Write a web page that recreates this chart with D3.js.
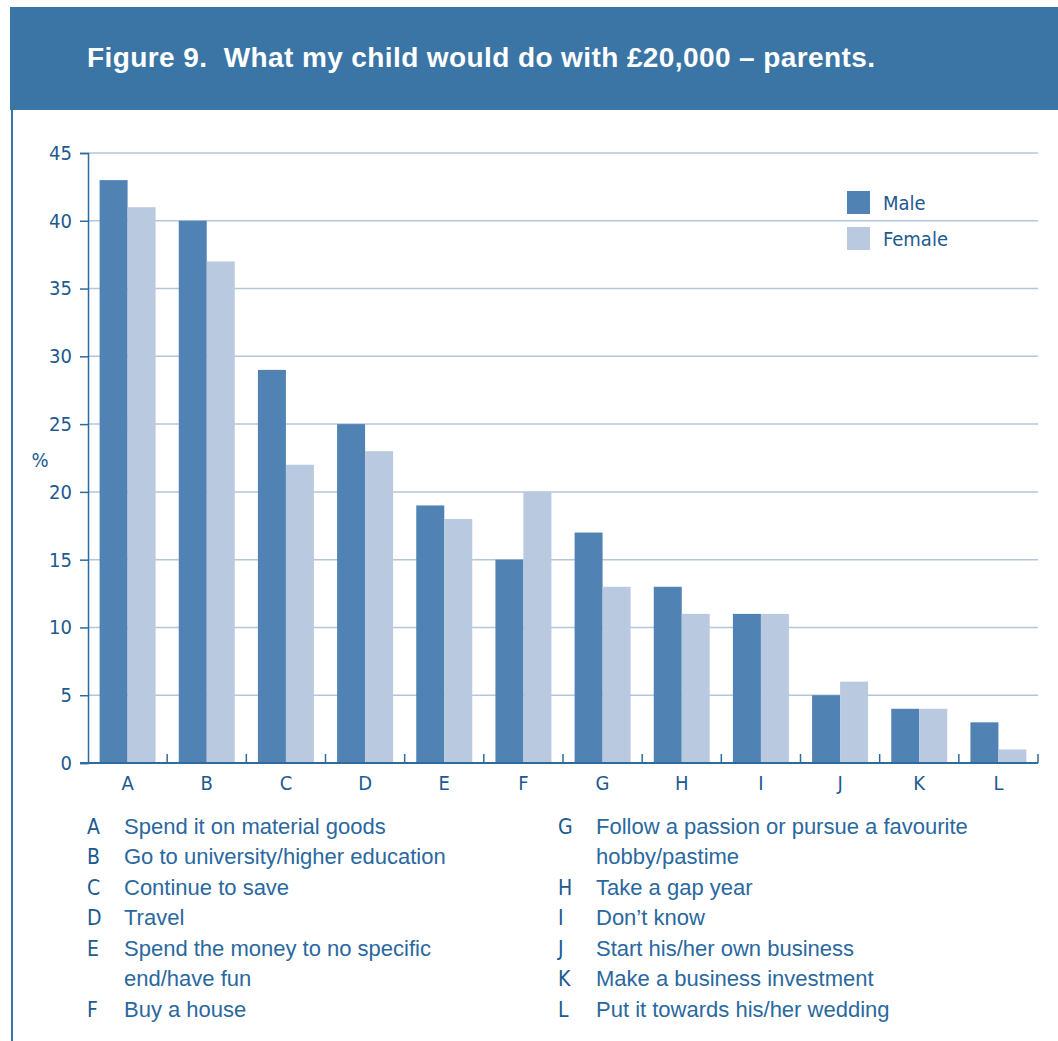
<!DOCTYPE html>
<html>
<head>
<meta charset="utf-8">
<script src="https://cdn.jsdelivr.net/npm/d3@7"></script>
<style>
  html, body { margin: 0; padding: 0; background: #fff; }
  svg { display: block; }
</style>
</head>
<body>
<svg id="chart" width="1058" height="1041"></svg>
<script>
// Survey answers by parent gender, in percent
const categories = ["A", "B", "C", "D", "E", "F", "G", "H", "I", "J", "K", "L"];
const maleValues = [43, 40, 29, 25, 19, 15, 17, 13, 11, 5, 4, 3];
const femaleValues = [41, 37, 22, 23, 18, 20, 13, 11, 11, 6, 4, 1];
const seriesNames = ["Male", "Female"];
const yTicks = [0, 5, 10, 15, 20, 25, 30, 35, 40, 45];
const titleText = "Figure 9.  What my child would do with £20,000 – parents.";
// Key to the category letters: [letter, lines of text]
const keyLeft = [
  ["A", ["Spend it on material goods"]],
  ["B", ["Go to university/higher education"]],
  ["C", ["Continue to save"]],
  ["D", ["Travel"]],
  ["E", ["Spend the money to no specific", "end/have fun"]],
  ["F", ["Buy a house"]]
];
const keyRight = [
  ["G", ["Follow a passion or pursue a favourite", "hobby/pastime"]],
  ["H", ["Take a gap year"]],
  ["I", ["Don’t know"]],
  ["J", ["Start his/her own business"]],
  ["K", ["Make a business investment"]],
  ["L", ["Put it towards his/her wedding"]]
];

const colors = { Male: "#5083b3", Female: "#b9c9e0" };
const bandBlue = "#3a75a6";
const textBlue = "#1c5a90";
const gridBlue = "#b4c6dc";
const narrow = "'DejaVu Sans Condensed', 'Liberation Sans', sans-serif";
const regular = "'Liberation Sans', Arial, sans-serif";

const svg = d3.select("#chart");

// Header band and left rule
svg.append("rect").attr("x", 10).attr("y", 7).attr("width", 1048).attr("height", 103).attr("fill", bandBlue);
svg.append("rect").attr("x", 11).attr("y", 110).attr("width", 2).attr("height", 931).attr("fill", bandBlue);
svg.append("text")
  .attr("x", 87).attr("y", 67)
  .attr("fill", "#fff")
  .attr("font-family", regular)
  .attr("font-weight", "bold")
  .attr("font-size", 28)
  .attr("textLength", 788)
  .attr("lengthAdjust", "spacing")
  .style("white-space", "pre")
  .text(titleText);

// Plot area
const plotL = 88, plotR = 1038, plotT = 153, plotB = 763;
const x = d3.scaleBand().domain(categories).range([plotL, plotR]).paddingInner(0).paddingOuter(0);
const inner = d3.scaleBand().domain(seriesNames).range([0, x.bandwidth()]).paddingInner(0).paddingOuter(0.414);
const y = d3.scaleLinear().domain([0, 45]).range([plotB, plotT]);

// Gridlines
svg.append("g").selectAll("line")
  .data(yTicks.filter(t => t > 0))
  .join("line")
  .attr("x1", plotL).attr("x2", plotR)
  .attr("y1", d => y(d)).attr("y2", d => y(d))
  .attr("stroke", gridBlue).attr("stroke-width", 1.5);

// Bars
const rows = categories.map((c, i) => ({ cat: c, Male: maleValues[i], Female: femaleValues[i] }));
const groups = svg.append("g").selectAll("g")
  .data(rows)
  .join("g")
  .attr("transform", d => `translate(${x(d.cat)},0)`);
groups.selectAll("rect")
  .data(d => seriesNames.map(s => ({ s, v: d[s] })))
  .join("rect")
  .attr("x", d => inner(d.s))
  .attr("width", inner.bandwidth())
  .attr("y", d => y(d.v))
  .attr("height", d => y(0) - y(d.v))
  .attr("fill", d => colors[d.s]);

// Y axis
const yAxis = d3.axisLeft(y).tickValues(yTicks).tickSize(8).tickPadding(8);
const gy = svg.append("g").attr("transform", `translate(${plotL},0)`).call(yAxis);
gy.select(".domain").attr("stroke", "#2d6a9d").attr("stroke-width", 1.5);
gy.selectAll(".tick line").attr("stroke", "#2d6a9d").attr("stroke-width", 1.5);
gy.selectAll(".tick text")
  .attr("fill", textBlue)
  .attr("font-family", narrow)
  .attr("font-size", 20);

// X axis: baseline, boundary ticks pointing up, letter labels
const xAxis = d3.axisBottom(x).tickSize(0).tickPadding(13);
const gx = svg.append("g").attr("transform", `translate(0,${plotB})`).call(xAxis);
gx.select(".domain").remove();
gx.selectAll(".tick text")
  .attr("fill", textBlue)
  .attr("font-family", narrow)
  .attr("font-size", 20);
svg.append("line")
  .attr("x1", plotL - 8).attr("x2", plotR)
  .attr("y1", plotB).attr("y2", plotB)
  .attr("stroke", "#2d6a9d").attr("stroke-width", 2);
svg.append("g").selectAll("line")
  .data(categories)
  .join("line")
  .attr("x1", d => x(d) + x.bandwidth()).attr("x2", d => x(d) + x.bandwidth())
  .attr("y1", plotB).attr("y2", plotB - 9)
  .attr("stroke", "#2d6a9d").attr("stroke-width", 1.5);

// Y axis label
svg.append("text")
  .attr("x", 40).attr("y", 467)
  .attr("text-anchor", "middle")
  .attr("fill", textBlue)
  .attr("font-family", narrow)
  .attr("font-size", 20)
  .text("%");

// Series legend
const legend = svg.append("g").selectAll("g")
  .data(seriesNames)
  .join("g")
  .attr("transform", (d, i) => `translate(847,${191 + i * 36})`);
legend.append("rect").attr("width", 23).attr("height", 23).attr("fill", d => colors[d]);
legend.append("text")
  .attr("x", 36).attr("y", 19)
  .attr("fill", textBlue)
  .attr("font-family", narrow)
  .attr("font-size", 20)
  .text(d => d);

// Category key below the chart
function drawKey(items, letterX, textX) {
  let line = 0;
  const g = svg.append("g");
  items.forEach(([letter, lines]) => {
    const y0 = 833.5 + line * 30.5;
    g.append("text")
      .attr("x", letterX).attr("y", y0)
      .attr("fill", textBlue)
      .attr("font-family", narrow)
      .attr("font-size", 21)
      .text(letter);
    lines.forEach((t, j) => {
      g.append("text")
        .attr("x", textX).attr("y", y0 + j * 30.5)
        .attr("fill", "#2a68a0")
        .attr("font-family", regular)
        .attr("font-size", 22)
        .text(t);
    });
    line += lines.length;
  });
}
drawKey(keyLeft, 87, 124);
drawKey(keyRight, 558, 596);
</script>
</body>
</html>
